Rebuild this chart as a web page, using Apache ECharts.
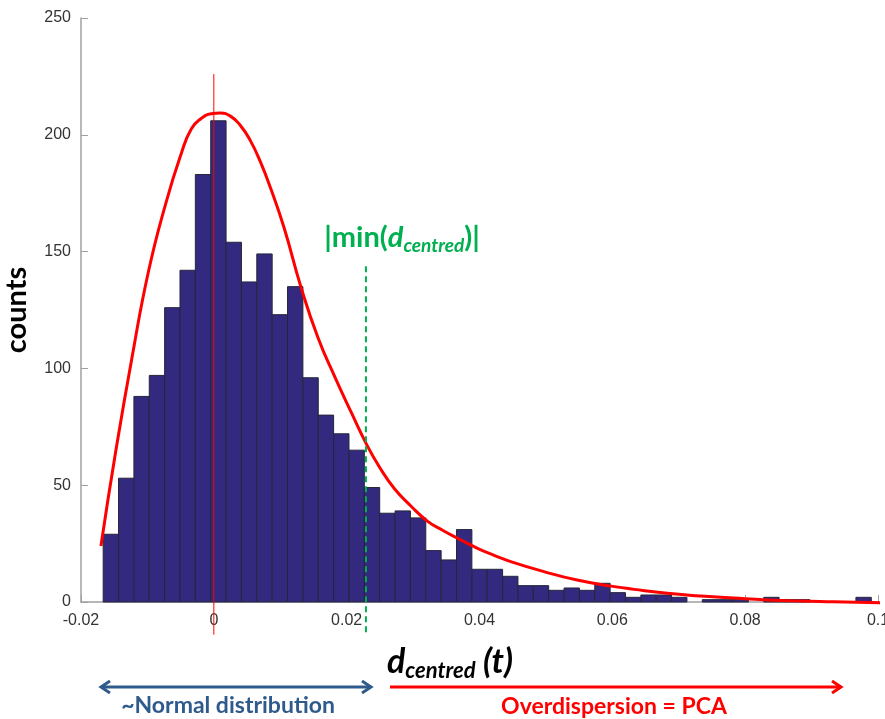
<!DOCTYPE html>
<html>
<head>
<meta charset="utf-8">
<script src="https://cdn.jsdelivr.net/npm/echarts@6/dist/echarts.min.js"></script>
<style>html,body{margin:0;padding:0;background:#fff;}#c{width:885px;height:719px;}</style>
</head>
<body>
<div id="c"></div>
<script>
// Histogram counts (50 bins)
const counts = [29, 53, 88, 97, 126, 142, 183, 206, 154, 137, 149, 123, 135, 96, 80, 72, 65, 49,
  38, 39, 36, 22, 18, 31, 14, 14, 11, 7, 7, 5, 6, 5, 8,
  4, 2, 3, 3, 2, 0, 1, 1, 1, 0, 2, 1, 1, 0, 0, 0, 2];
const binStart = -0.01666;
const binWidth = 0.002313;

// Fitted curve
const fitX = [-0.0170, -0.0148, -0.0123, -0.0098, -0.0072, -0.0049, -0.0034, -0.0019, -0.0004, 0.0010,
  0.0025, 0.0040, 0.0055, 0.0070, 0.0085, 0.0106, 0.0131, 0.0157, 0.0182, 0.0208,
  0.0229, 0.0250, 0.0272, 0.0297, 0.0322, 0.0345, 0.0367, 0.0397, 0.0422, 0.0447,
  0.0497, 0.0547, 0.0598, 0.0633, 0.0683, 0.0733, 0.0783, 0.0833, 0.0883, 0.0933, 0.1013];
const fitY = [24, 64, 105, 142, 171, 192, 202.5, 207, 209, 209.3,
  208, 204, 197.5, 188.5, 177.5, 160, 135, 113, 96.5, 80.5,
  68, 57.5, 48.5, 41, 34.5, 30.6, 27.3, 23, 20, 17.3,
  13, 9.4, 6.8, 5.4, 3.7, 2.6, 1.7, 0.9, 0.4, 0.1, -0.4];

// Reference lines
const zeroLineX = [0, 0];
const zeroLineY = [-14, 226];
const minLineX = [0.0229, 0.0229];
const minLineY = [-13, 144];

// Axes
const xMin = -0.02, xMax = 0.1, xStep = 0.02;
const yMin = 0, yMax = 250, yStep = 50;

const histData = counts.map((c, i) => [binStart + i * binWidth, binStart + (i + 1) * binWidth, c]);
const fitData = fitX.map((x, i) => [x, fitY[i]]);
const zeroData = zeroLineX.map((x, i) => [x, zeroLineY[i]]);
const minData = minLineX.map((x, i) => [x, minLineY[i]]);

const chart = echarts.init(document.getElementById('c'));
const axisGrey = '#a0a0a0';
const option = {
  animation: false,
  grid: { left: 81, top: 18, width: 797, height: 584, outerBoundsMode: 'none', containLabel: false },
  xAxis: {
    type: 'value', min: xMin, max: xMax, interval: xStep,
    axisLine: { show: true, onZero: false, lineStyle: { color: axisGrey, width: 1.5 } },
    axisTick: { show: true, inside: true, length: 7, lineStyle: { color: axisGrey } },
    axisLabel: { color: '#333', fontSize: 16, margin: 11, fontFamily: 'Liberation Sans',
      formatter: v => String(+(+v).toFixed(4)) },
    splitLine: { show: false }
  },
  yAxis: {
    type: 'value', min: yMin, max: yMax, interval: yStep,
    name: 'counts', nameLocation: 'middle', nameGap: 50, nameRotate: 90,
    nameTextStyle: { color: '#000', fontSize: 29, fontWeight: 'bold', fontFamily: 'Lato' },
    axisLine: { show: true, onZero: false, lineStyle: { color: axisGrey, width: 1.5 } },
    axisTick: { show: true, inside: true, length: 7, lineStyle: { color: axisGrey } },
    axisLabel: { color: '#333', fontSize: 16, margin: 10, fontFamily: 'Liberation Sans' },
    splitLine: { show: false }
  },
  series: [
    {
      type: 'custom',
      data: histData,
      encode: { x: [0, 1], y: 2 },
      renderItem: function (params, api) {
        const x0 = api.value(0), x1 = api.value(1), c = api.value(2);
        if (!c) return { type: 'group', children: [] };
        const p0 = api.coord([x0, c]);
        const p1 = api.coord([x1, 0]);
        return {
          type: 'rect',
          shape: { x: p0[0], y: p0[1], width: p1[0] - p0[0], height: p1[1] - p0[1] },
          style: { fill: '#332a80', stroke: '#26263a', lineWidth: 1 }
        };
      },
      z: 2
    },
    {
      type: 'line', data: fitData, smooth: 0.5, showSymbol: false, clip: false,
      lineStyle: { color: '#ff0000', width: 3 }, z: 4
    },
    {
      type: 'line', data: zeroData, showSymbol: false, clip: false,
      lineStyle: { color: '#ff0000', width: 1 }, z: 5
    },
    {
      type: 'line', data: minData, showSymbol: false, clip: false,
      lineStyle: { color: '#00b050', width: 2, type: [6, 4] }, z: 5
    }
  ],
  graphic: [
    {
      type: 'text', x: 402, y: 238, z: 10,
      style: {
        text: '{a||min(}{d|d}{s|centred}{a|)|}',
        align: 'center', verticalAlign: 'middle',
        rich: {
          a: { fontSize: 29, fontWeight: 'bold', fontFamily: 'Lato', fill: '#00b050', lineHeight: 36 },
          d: { fontSize: 29, fontWeight: 'bold', fontStyle: 'italic', fontFamily: 'Lato', fill: '#00b050', lineHeight: 36 },
          s: { fontSize: 19, fontWeight: 'bold', fontStyle: 'italic', fontFamily: 'Lato', fill: '#00b050', lineHeight: 19, padding: [15, 0, 0, 0] }
        }
      }
    },
    {
      type: 'text', x: 450, y: 662, z: 10,
      style: {
        text: '{d|d}{s|centred}{t| (t)}',
        align: 'center', verticalAlign: 'middle',
        rich: {
          d: { fontSize: 34, fontWeight: 'bold', fontStyle: 'italic', fontFamily: 'Lato', fill: '#000', lineHeight: 40 },
          s: { fontSize: 22, fontWeight: 'bold', fontStyle: 'italic', fontFamily: 'Lato', fill: '#000', lineHeight: 22, padding: [18, 0, 0, 0] },
          t: { fontSize: 34, fontWeight: 'bold', fontStyle: 'italic', fontFamily: 'Lato', fill: '#000', lineHeight: 40 }
        }
      }
    },
    // blue double arrow
    { type: 'polyline', shape: { points: [[101, 687], [371, 687]] }, style: { stroke: '#2f5a8c', lineWidth: 3, fill: null } },
    { type: 'polyline', shape: { points: [[110, 681], [101, 687], [110, 693]] }, style: { stroke: '#2f5a8c', lineWidth: 3, fill: null, lineJoin: 'miter' } },
    { type: 'polyline', shape: { points: [[362, 681], [371, 687], [362, 693]] }, style: { stroke: '#2f5a8c', lineWidth: 3, fill: null, lineJoin: 'miter' } },
    // red arrow
    { type: 'polyline', shape: { points: [[390, 687], [841, 687]] }, style: { stroke: '#ff0000', lineWidth: 3, fill: null } },
    { type: 'polyline', shape: { points: [[832, 681], [841, 687], [832, 693]] }, style: { stroke: '#ff0000', lineWidth: 3, fill: null, lineJoin: 'miter' } },
    {
      type: 'text', x: 228, y: 706,
      style: { text: '~Normal distribution', align: 'center', verticalAlign: 'middle', fontSize: 23, fontWeight: 'bold', fontFamily: 'Lato', fill: '#2f5a8c' }
    },
    {
      type: 'text', x: 614, y: 707,
      style: { text: 'Overdispersion = PCA', align: 'center', verticalAlign: 'middle', fontSize: 23, fontWeight: 'bold', fontFamily: 'Lato', fill: '#ff0000' }
    }
  ]
};
chart.setOption(option);
</script>
</body>
</html>
